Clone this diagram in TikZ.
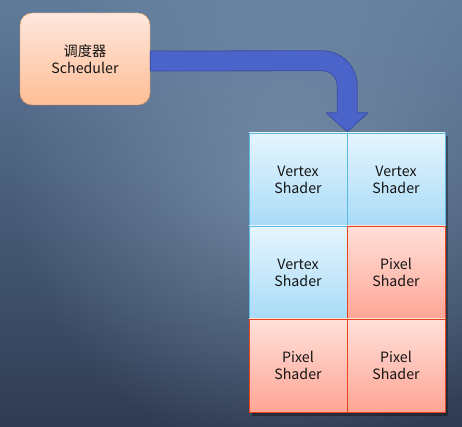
\documentclass[tikz,border=0pt]{standalone}
\usepackage{fontspec}
\newfontfamily\cjk{Noto Sans CJK SC}
\usetikzlibrary{calc,shadows,fadings}
\definecolor{bgtop}{HTML}{5F7B9B}
\definecolor{bgbot}{HTML}{2F3B52}
\definecolor{bgglow}{HTML}{8DA4BF}
\definecolor{schedtop}{HTML}{FFE6DC}
\definecolor{schedbot}{HTML}{FFBE96}
\definecolor{schedline}{HTML}{E5964E}
\definecolor{arrowfill}{HTML}{4B64C9}
\definecolor{arrowline}{HTML}{3A4EA2}
\definecolor{vstop}{HTML}{E6F5FE}
\definecolor{vsbot}{HTML}{A8DBF7}
\definecolor{vsline}{HTML}{5BB9E6}
\definecolor{pstop}{HTML}{FFE0D9}
\definecolor{psbot}{HTML}{FFA595}
\definecolor{psline}{HTML}{E5441F}
\tikzfading[name=glow, inner color=transparent!0, outer color=transparent!100]
\tikzset{
  txt/.style={font=\cjk\fontsize{14.2}{17}\selectfont, text=black!92, align=center},
  schedbox/.style={txt, draw=schedline, rounded corners=12pt, top color=schedtop, bottom color=schedbot,
    minimum width=130pt, minimum height=92pt, inner sep=0pt},
  vscell/.style={txt, draw=vsline, top color=vstop, bottom color=vsbot,
    minimum width=98pt, minimum height=93pt, inner sep=0pt},
  pscell/.style={txt, draw=psline, top color=pstop, bottom color=psbot,
    minimum width=98pt, minimum height=93pt, inner sep=0pt},
  bigarrow/.style={fill=arrowfill, draw=arrowline, line width=0.8pt, line join=round}
}
\begin{document}
\begin{tikzpicture}[x=1pt, y=1pt]
  \useasboundingbox (0,0) rectangle (462,427);
  \shade[top color=bgtop, bottom color=bgbot] (0,0) rectangle (462,427);
  \fill[bgglow, opacity=0.6, path fading=glow] (290,250) circle (280);

  \node[schedbox] (sched) at (85,368) {调度器\\Scheduler};

  % shader grid
  \fill[black, opacity=0.35] (252,11) rectangle (448,291);
  \node[vscell] (vs1) at (298,247.5) {Vertex\\Shader};
  \node[vscell] (vs2) at (396,247.5) {Vertex\\Shader};
  \node[vscell] (vs3) at (298,154.5) {Vertex\\Shader};
  \node[pscell] (ps1) at (396,154.5) {Pixel\\Shader};
  \node[pscell] (ps2) at (298,61.5) {Pixel\\Shader};
  \node[pscell] (ps3) at (396,61.5) {Pixel\\Shader};

  \coordinate (tip) at ($(vs1.north east)+(0,1)$);
  \draw[bigarrow] ($(sched.east)+(0,8)$) -- ($(tip)+(-25,81)$)
    arc[start angle=90, end angle=0, radius=35] -- ($(tip)+(10,19)$)
    -- ($(tip)+(21,19)$) -- (tip) -- ($(tip)+(-21,19)$) -- ($(tip)+(-10,19)$)
    -- ($(tip)+(-10,46)$) arc[start angle=0, end angle=90, radius=15]
    -- ($(sched.east)+(0,-12)$) -- cycle;
\end{tikzpicture}
\end{document}
